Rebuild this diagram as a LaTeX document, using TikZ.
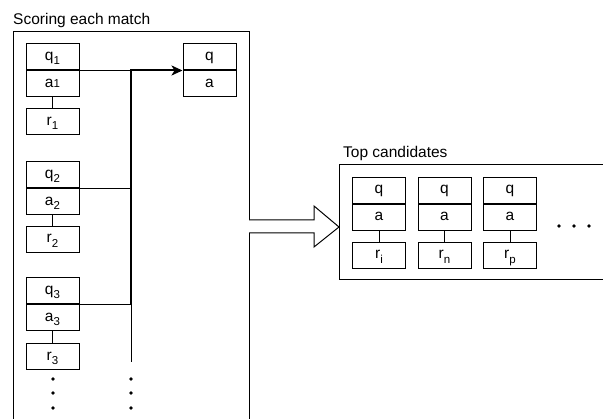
\documentclass[tikz,border=0pt]{standalone}
\usepackage{fontspec}
\setmainfont{Liberation Sans}
\usetikzlibrary{arrows.meta,calc}
% lowered, smaller index as used in the labels
\newcommand{\lowidx}[1]{\raisebox{-0.28em}{\fontsize{11.5}{11.5}\selectfont #1}}
\begin{document}
\begin{tikzpicture}[x=1pt,y=-1pt,
  every node/.style={font=\fontsize{15.5}{18}\selectfont},
  cell/.style={draw, line width=1pt, minimum width=53pt, minimum height=26pt,
               inner sep=0pt, text height=0.9em, text depth=0.21em},
  frame/.style={draw, line width=1pt, inner sep=0pt, anchor=north west},
  title/.style={anchor=base west, inner sep=0pt},
  thinline/.style={line width=1pt},
  busline/.style={line width=2pt},
  dot/.style={circle, fill, inner sep=0pt, minimum size=3.6pt}]
\useasboundingbox (0,0) rectangle (603,419);
\clip (0,0) rectangle (603,419);

% ---------- left panel: scoring ----------
\node[title] (t1) at (13,24.5) {Scoring each match};
\node[frame, minimum width=236pt, minimum height=399pt] (scoring) at (13,31) {};

\node[cell] (q1) at (52.5,57) {q\lowidx{1}};
\node[cell, anchor=north] (a1) at (q1.south) {a{\fontsize{11.5}{11.5}\selectfont 1}};
\node[cell] (r1) at (52.5,122) {r\lowidx{1}};

\node[cell] (q2) at (52.5,175) {q\lowidx{2}};
\node[cell, anchor=north] (a2) at (q2.south) {a\lowidx{2}};
\node[cell] (r2) at (52.5,239.5) {r\lowidx{2}};

\node[cell] (q3) at (52.5,291) {q\lowidx{3}};
\node[cell, anchor=north] (a3) at (q3.south) {a\lowidx{3}};
\node[cell] (r3) at (52.5,357) {r\lowidx{3}};

\node[cell] (qm) at (209.5,57) {q};
\node[cell, anchor=north] (am) at (qm.south) {a};

\draw[thinline] (a1) -- (r1);
\draw[thinline] (a2) -- (r2);
\draw[thinline] (a3) -- (r3);

% collecting bus
\coordinate (busx) at (131,0);
\coordinate (b1) at (q1.south east -| busx);
\coordinate (b2) at (q2.south east -| busx);
\coordinate (b3) at (q3.south east -| busx);
\coordinate (bend) at (131,362);

\draw[thinline] (q1.south east) -- (b1);
\draw[thinline] (q2.south east) -- (b2);
\draw[thinline] (q3.south east) -- (b3);
\draw[busline, -{Stealth[length=11pt,width=10pt,inset=3pt]}] (b3) -- (b1) -- (qm.south west);
\draw[thinline] (b3) -- (bend);

\foreach \y [count=\i] in {379,393,408} {
  \node[dot] (dl\i) at (53,\y) {};
  \node[dot] (db\i) at (131,\y) {};
}

% ---------- hollow arrow between panels ----------
\draw[line width=1pt, fill=white]
  (249,220) -- (314,220) -- (314,206) -- (339,227) -- (314,247) -- (314,233) -- (249,233);

% ---------- right panel: top candidates ----------
\node[title] (t2) at (343,158) {Top candidates};
\node[frame, minimum width=290pt, minimum height=115pt] (top) at (339,164) {};

\foreach \x/\r/\n in {379/i/c1, 444.5/n/c2, 510/p/c3} {
  \node[cell] (\n q) at (\x,190.5) {q};
  \node[cell, anchor=north] (\n a) at (\n q.south) {a};
  \node[cell] (\n r) at (\x,255.5) {r\lowidx{\r}};
  \draw[thinline] (\n a) -- (\n r);
}

\foreach \x [count=\i] in {559,574,589} {
  \node[dot] (dr\i) at (\x,226) {};
}
\end{tikzpicture}
\end{document}
